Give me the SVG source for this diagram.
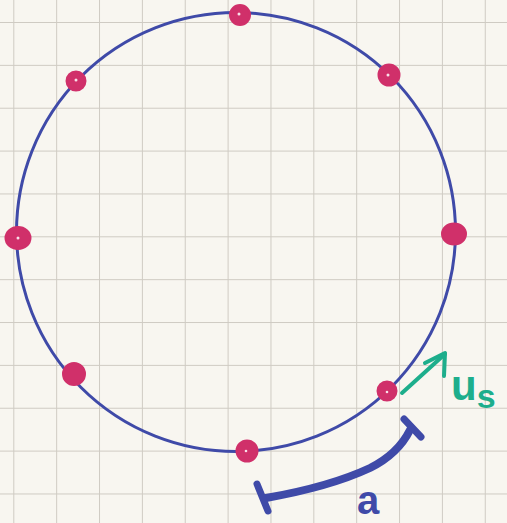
<svg xmlns="http://www.w3.org/2000/svg" width="507" height="523" viewBox="0 0 507 523">
<defs>
<pattern id="grid" x="13.3" y="22" width="42.86" height="42.86" patternUnits="userSpaceOnUse">
<path d="M0 0 V42.86 M0 0 H42.86" fill="none" stroke="#cfcbc3" stroke-width="2"/>
</pattern>
<style>
.pt{fill:#d0306a;stroke:#d0306a;stroke-width:2}
.hl{fill:#ffffff;opacity:0.85}
.blue{stroke:#3f4aa8;fill:none;stroke-linecap:round;stroke-linejoin:round}
.green{stroke:#1dae8c;fill:none;stroke-width:4;stroke-linecap:round;stroke-linejoin:round}
.lbl{font-family:"Liberation Sans",sans-serif}
</style>
</defs>
<rect width="507" height="523" fill="#f8f6f0"/>
<rect width="507" height="523" fill="url(#grid)"/>
<g id="circle">
<circle cx="236" cy="232" r="219.5" class="blue" stroke-width="3"/>
</g>
<g id="points">
<g id="p-top"><circle cx="240" cy="15" r="10" class="pt"/><circle cx="239" cy="14" r="1.5" class="hl"/></g>
<g id="p-upper-right"><circle cx="389" cy="75" r="10.5" class="pt"/><circle cx="388" cy="75" r="1.5" class="hl"/></g>
<g id="p-right"><ellipse cx="454" cy="234" rx="12" ry="10.5" class="pt"/></g>
<g id="p-lower-right"><circle cx="387" cy="391" r="9.5" class="pt"/><circle cx="387" cy="392" r="1.3" class="hl"/></g>
<g id="p-bottom"><circle cx="247" cy="451" r="10.5" class="pt"/><circle cx="246" cy="451" r="1.3" class="hl"/></g>
<g id="p-lower-left"><circle cx="74" cy="374" r="11" class="pt"/></g>
<g id="p-left"><ellipse cx="18" cy="238" rx="12.5" ry="11" class="pt"/><circle cx="18" cy="238" r="1.5" class="hl"/></g>
<g id="p-upper-left"><circle cx="76" cy="81" r="9.5" class="pt"/><circle cx="76" cy="80" r="1.5" class="hl"/></g>
</g>
<g id="connectors">
<g id="us-arrow">
<path d="M402 393 L445 354" class="green"/>
<path d="M425 363 L445 353 L444 376" class="green"/>
</g>
<g id="a-arrow">
<path d="M266 498 C300 492 340 482 370 468 C392 457 403 444 410 430" class="blue" stroke-width="8"/>
<path d="M257 484 L268 511" class="blue" stroke-width="7"/>
<path d="M404 419 L421 437" class="blue" stroke-width="7"/>
</g>
</g>
<g id="labels">
<text x="451" y="400" class="lbl" font-size="42" font-weight="bold" fill="#1dae8c">u<tspan font-size="34" dy="8">s</tspan></text>
<text x="357" y="514" class="lbl" font-size="40" font-weight="bold" fill="#3f4aa8">a</text>
</g>
</svg>
